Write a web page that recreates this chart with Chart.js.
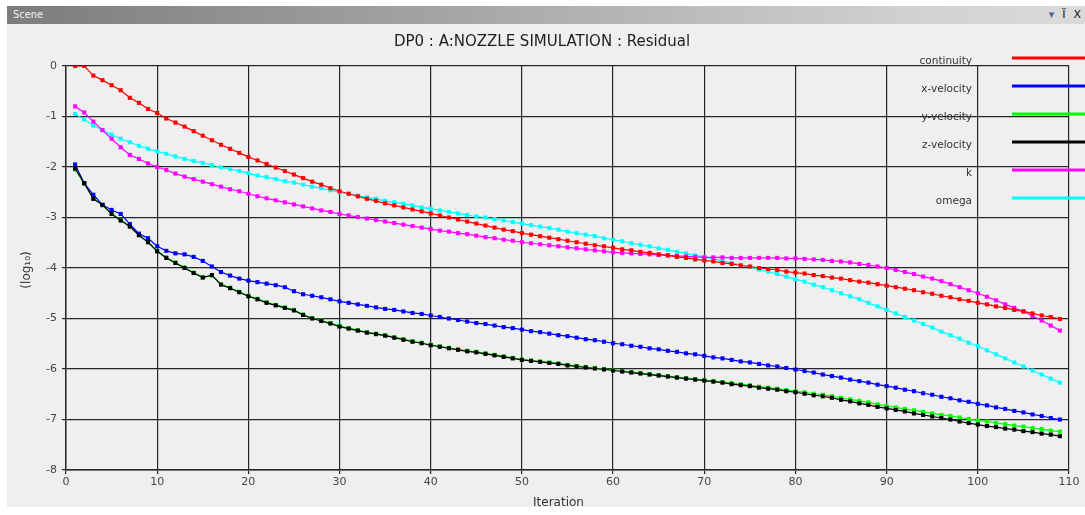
<!DOCTYPE html>
<html>
<head>
<meta charset="utf-8">
<script src="https://cdn.jsdelivr.net/npm/chart.js"></script>
<style>
  body { margin: 0; background: #ffffff; width: 1085px; height: 515px; overflow: hidden; font-family: "DejaVu Sans", sans-serif; }
  #bar { position: absolute; left: 7px; top: 6px; width: 1078px; height: 18px;
         background: linear-gradient(to right, #7c7c7c, #a9a9a9 45%, #d2d2d2 85%, #dadada); }
  #bar .name { position: absolute; left: 6px; top: 2px; font-size: 11px; color: #f2f2f2; font-family: "DejaVu Sans Condensed", "DejaVu Sans", sans-serif; }
  #bar .icons { position: absolute; right: 4px; top: 2px; font-size: 11px; color: #111; }
  #bar .icons span { margin-left: 8px; }
  #panel { position: absolute; left: 7px; top: 24px; width: 1078px; height: 483px; background: #efefef; }
</style>
</head>
<body>
<div id="bar"><span class="name">Scene</span><span class="icons"><span style="color:#5560a0">&#9662;</span><span>&#1031;</span><span>X</span></span></div>
<div id="panel"><canvas id="residual" width="1078" height="483"></canvas></div>
<script>
var chartTitle = "DP0 : A:NOZZLE SIMULATION : Residual";
var xTitle = "Iteration";
var yTitle = "(log\u2081\u2080)";

var iterations = [];
for (var i = 1; i <= 109; i++) iterations.push(i);

var seriesNames = ["continuity", "x-velocity", "y-velocity", "z-velocity", "k", "omega"];
var seriesColors = ["#ff0000", "#0000ff", "#00ff00", "#000000", "#ff00ff", "#00ffff"];

var continuity = [0.00,0.00,-0.19,-0.28,-0.38,-0.48,-0.63,-0.73,-0.85,-0.93,
  -1.04,-1.12,-1.20,-1.29,-1.38,-1.47,-1.56,-1.64,-1.72,-1.80,
  -1.87,-1.94,-2.01,-2.08,-2.15,-2.22,-2.29,-2.35,-2.42,-2.48,
  -2.53,-2.58,-2.63,-2.67,-2.72,-2.76,-2.80,-2.84,-2.88,-2.92,
  -2.96,-3.00,-3.04,-3.08,-3.12,-3.16,-3.20,-3.24,-3.27,-3.31,
  -3.34,-3.37,-3.40,-3.43,-3.46,-3.49,-3.52,-3.55,-3.57,-3.60,
  -3.63,-3.65,-3.68,-3.70,-3.73,-3.75,-3.78,-3.80,-3.83,-3.85,
  -3.87,-3.90,-3.92,-3.95,-3.97,-4.00,-4.02,-4.04,-4.07,-4.09,
  -4.11,-4.14,-4.16,-4.19,-4.21,-4.24,-4.27,-4.29,-4.32,-4.35,
  -4.38,-4.41,-4.44,-4.48,-4.51,-4.55,-4.58,-4.62,-4.65,-4.69,
  -4.72,-4.76,-4.79,-4.83,-4.86,-4.90,-4.94,-4.97,-5.01];

var xVelocity = [-1.95,-2.32,-2.55,-2.75,-2.85,-2.93,-3.13,-3.32,-3.41,-3.57,
  -3.66,-3.71,-3.73,-3.78,-3.86,-3.97,-4.08,-4.15,-4.21,-4.25,
  -4.28,-4.31,-4.34,-4.38,-4.46,-4.52,-4.55,-4.58,-4.62,-4.66,
  -4.69,-4.72,-4.75,-4.78,-4.81,-4.83,-4.86,-4.89,-4.91,-4.94,
  -4.97,-5.00,-5.03,-5.06,-5.09,-5.11,-5.14,-5.17,-5.19,-5.22,
  -5.25,-5.27,-5.30,-5.33,-5.35,-5.38,-5.41,-5.43,-5.46,-5.49,
  -5.51,-5.54,-5.56,-5.59,-5.61,-5.64,-5.66,-5.69,-5.71,-5.74,
  -5.77,-5.79,-5.82,-5.85,-5.87,-5.90,-5.93,-5.95,-5.98,-6.01,
  -6.04,-6.07,-6.11,-6.14,-6.17,-6.21,-6.24,-6.27,-6.31,-6.34,
  -6.37,-6.41,-6.44,-6.48,-6.51,-6.55,-6.58,-6.62,-6.65,-6.69,
  -6.72,-6.76,-6.79,-6.83,-6.86,-6.90,-6.93,-6.97,-7.00];

var yVelocity = [-2.05,-2.33,-2.62,-2.76,-2.92,-3.05,-3.17,-3.34,-3.48,-3.66,
  -3.79,-3.89,-3.99,-4.09,-4.18,-4.15,-4.32,-4.39,-4.47,-4.55,
  -4.61,-4.68,-4.73,-4.78,-4.83,-4.92,-4.99,-5.04,-5.09,-5.15,
  -5.19,-5.23,-5.27,-5.30,-5.33,-5.37,-5.41,-5.45,-5.48,-5.52,
  -5.55,-5.58,-5.61,-5.64,-5.66,-5.69,-5.72,-5.75,-5.78,-5.81,
  -5.83,-5.85,-5.87,-5.89,-5.92,-5.94,-5.96,-5.98,-6.00,-6.02,
  -6.04,-6.06,-6.08,-6.10,-6.12,-6.14,-6.16,-6.18,-6.20,-6.22,
  -6.24,-6.26,-6.28,-6.30,-6.32,-6.35,-6.37,-6.39,-6.42,-6.44,
  -6.46,-6.49,-6.51,-6.54,-6.57,-6.60,-6.63,-6.66,-6.70,-6.73,
  -6.76,-6.79,-6.82,-6.85,-6.88,-6.91,-6.93,-6.96,-6.99,-7.02,
  -7.04,-7.07,-7.09,-7.12,-7.14,-7.17,-7.19,-7.22,-7.24];

var zVelocity = [-2.03,-2.32,-2.63,-2.75,-2.93,-3.06,-3.18,-3.35,-3.49,-3.67,
  -3.80,-3.90,-4.00,-4.10,-4.19,-4.14,-4.33,-4.40,-4.48,-4.56,
  -4.62,-4.69,-4.74,-4.79,-4.84,-4.93,-5.00,-5.05,-5.10,-5.16,
  -5.20,-5.24,-5.28,-5.31,-5.34,-5.38,-5.42,-5.46,-5.49,-5.53,
  -5.56,-5.59,-5.62,-5.65,-5.67,-5.70,-5.73,-5.76,-5.79,-5.82,
  -5.84,-5.86,-5.88,-5.90,-5.93,-5.95,-5.97,-5.99,-6.01,-6.03,
  -6.05,-6.07,-6.09,-6.11,-6.13,-6.15,-6.17,-6.19,-6.21,-6.23,
  -6.25,-6.27,-6.30,-6.32,-6.34,-6.37,-6.39,-6.41,-6.44,-6.46,
  -6.49,-6.52,-6.54,-6.57,-6.61,-6.64,-6.68,-6.71,-6.75,-6.78,
  -6.81,-6.84,-6.88,-6.91,-6.94,-6.97,-7.00,-7.04,-7.07,-7.10,
  -7.13,-7.15,-7.18,-7.20,-7.23,-7.25,-7.28,-7.30,-7.33];

var kResidual = [-0.80,-0.92,-1.10,-1.27,-1.44,-1.61,-1.76,-1.84,-1.93,-2.00,
  -2.06,-2.13,-2.19,-2.24,-2.29,-2.34,-2.39,-2.44,-2.48,-2.53,
  -2.58,-2.62,-2.66,-2.70,-2.74,-2.78,-2.82,-2.86,-2.89,-2.93,
  -2.96,-2.99,-3.02,-3.05,-3.08,-3.11,-3.14,-3.17,-3.20,-3.23,
  -3.26,-3.28,-3.31,-3.33,-3.36,-3.39,-3.41,-3.44,-3.46,-3.49,
  -3.51,-3.53,-3.55,-3.57,-3.59,-3.61,-3.63,-3.65,-3.67,-3.69,
  -3.70,-3.71,-3.72,-3.73,-3.74,-3.75,-3.76,-3.77,-3.78,-3.79,
  -3.79,-3.79,-3.80,-3.80,-3.80,-3.80,-3.80,-3.80,-3.81,-3.81,
  -3.82,-3.83,-3.84,-3.86,-3.87,-3.89,-3.92,-3.94,-3.97,-4.00,
  -4.04,-4.08,-4.12,-4.17,-4.21,-4.26,-4.32,-4.38,-4.44,-4.50,
  -4.57,-4.64,-4.72,-4.79,-4.86,-4.95,-5.04,-5.14,-5.24];

var omega = [-0.95,-1.06,-1.18,-1.27,-1.36,-1.44,-1.51,-1.58,-1.64,-1.69,
  -1.74,-1.79,-1.84,-1.88,-1.92,-1.96,-2.01,-2.04,-2.08,-2.12,
  -2.17,-2.20,-2.24,-2.28,-2.31,-2.35,-2.39,-2.42,-2.46,-2.50,
  -2.53,-2.57,-2.60,-2.63,-2.67,-2.70,-2.73,-2.76,-2.80,-2.83,
  -2.86,-2.89,-2.92,-2.95,-2.98,-3.00,-3.03,-3.06,-3.09,-3.12,
  -3.15,-3.18,-3.21,-3.24,-3.28,-3.31,-3.34,-3.37,-3.41,-3.44,
  -3.47,-3.51,-3.54,-3.57,-3.61,-3.64,-3.68,-3.71,-3.75,-3.78,
  -3.82,-3.86,-3.90,-3.94,-3.98,-4.03,-4.07,-4.12,-4.17,-4.22,
  -4.27,-4.33,-4.38,-4.44,-4.50,-4.56,-4.62,-4.69,-4.76,-4.83,
  -4.90,-4.97,-5.04,-5.11,-5.18,-5.26,-5.33,-5.40,-5.48,-5.55,
  -5.63,-5.71,-5.79,-5.87,-5.95,-6.03,-6.11,-6.19,-6.27];

var seriesValues = [continuity, xVelocity, yVelocity, zVelocity, kResidual, omega];
// z-velocity sits on top of y-velocity in the original
var drawOrder = [0, 0, 1, -1, 0, 0];

var xTicks = { min: 0, max: 110, step: 10 };
var yTicks = { min: -8, max: 0, step: 1 };

function points(values) {
  var pts = [];
  for (var i = 0; i < values.length; i++) pts.push({ x: iterations[i], y: values[i] });
  return pts;
}

var datasets = [];
for (var s = 0; s < seriesNames.length; s++) {
  datasets.push({
    label: seriesNames[s],
    data: points(seriesValues[s]),
    borderColor: seriesColors[s],
    backgroundColor: seriesColors[s],
    borderWidth: 1.2,
    pointStyle: 'rect',
    pointRadius: 2.9,
    pointBorderWidth: 0,
    pointBackgroundColor: seriesColors[s],
    fill: false,
    tension: 0,
    order: drawOrder[s]
  });
}

// title, axis names and the side legend, drawn like the solver's plot window
var decorations = {
  id: 'decorations',
  afterDraw: function(chart) {
    var ctx = chart.ctx;
    var area = chart.chartArea;
    ctx.save();
    ctx.fillStyle = '#1e1e1e';
    ctx.font = '15px "DejaVu Sans"';
    ctx.textAlign = 'center';
    ctx.textBaseline = 'middle';
    ctx.fillText(chartTitle, chart.width / 2 - 4, 18);

    ctx.fillStyle = '#333';
    ctx.font = '12px "DejaVu Sans"';
    ctx.fillText(xTitle, (area.left + area.right) / 2 - 9, 479);

    ctx.save();
    ctx.translate(20, (area.top + area.bottom) / 2 + 2);
    ctx.rotate(-Math.PI / 2);
    ctx.fillText(yTitle, 0, 0);
    ctx.restore();

    ctx.font = '10.5px "DejaVu Sans"';
    ctx.textAlign = 'right';
    ctx.textBaseline = 'alphabetic';
    for (var s = 0; s < seriesNames.length; s++) {
      var ly = 34 + s * 28;
      ctx.fillStyle = '#333';
      ctx.fillText(seriesNames[s], 965, ly + 6);
      ctx.strokeStyle = seriesColors[s];
      ctx.lineWidth = 3;
      ctx.beginPath();
      ctx.moveTo(1005, ly);
      ctx.lineTo(1078, ly);
      ctx.stroke();
    }
    ctx.restore();
  }
};

var ctx = document.getElementById('residual').getContext('2d');
var residualChart = new Chart(ctx, {
  type: 'line',
  data: { datasets: datasets },
  options: {
    responsive: false,
    animation: false,
    layout: { padding: { top: 42, right: 16, left: 0, bottom: 0 } },
    plugins: {
      legend: { display: false },
      title: { display: false },
      tooltip: { enabled: false }
    },
    scales: {
      x: {
        type: 'linear',
        min: xTicks.min,
        max: xTicks.max,
        afterFit: function(scale) { scale.height = 37; },
        ticks: { stepSize: xTicks.step, color: '#444', padding: 2, font: { family: 'DejaVu Sans', size: 11 } },
        grid: { color: '#262626', lineWidth: 1.2, tickLength: 4, tickColor: '#262626' },
        border: { color: '#262626', width: 1.4 }
      },
      y: {
        type: 'linear',
        min: yTicks.min,
        max: yTicks.max,
        afterFit: function(scale) { scale.width = 59; },
        ticks: { stepSize: yTicks.step, color: '#444', padding: 5, font: { family: 'DejaVu Sans', size: 11 } },
        grid: { color: '#262626', lineWidth: 1.2, tickLength: 4, tickColor: '#262626' },
        border: { color: '#262626', width: 1.4 }
      }
    }
  },
  plugins: [decorations]
});
</script>
</body>
</html>
